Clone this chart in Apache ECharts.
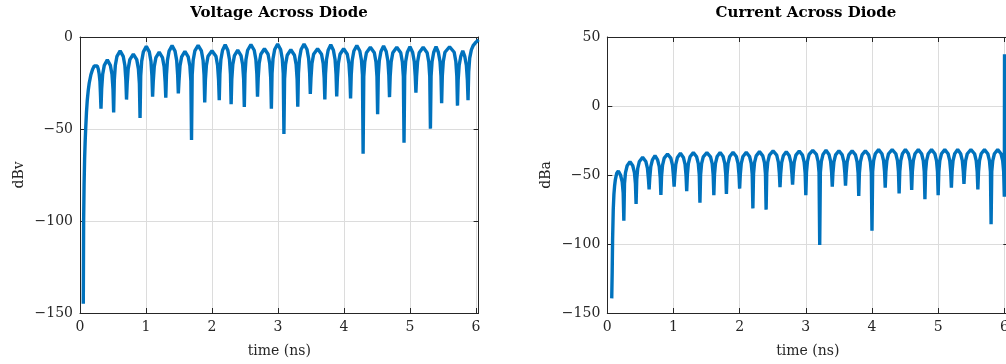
<!DOCTYPE html>
<html>
<head>
<meta charset="utf-8">
<script src="https://cdn.jsdelivr.net/npm/echarts@6/dist/echarts.min.js"></script>
<style>
html,body{margin:0;padding:0;background:#fff;overflow:hidden;}
#chart{width:1006px;height:364px;}
</style>
</head>
<body>
<div id="chart"></div>
<script>
// ---- Data ----
const voltageTitle = 'Voltage Across Diode';
const currentTitle = 'Current Across Diode';
const xAxisName = 'time (ns)';
const voltageAxisName = 'dBv';
const currentAxisName = 'dBa';
const voltageYTicks = [-150, -100, -50, 0];
const currentYTicks = [-150, -100, -50, 0, 50];
const timeTicks = [0, 1, 2, 3, 4, 5, 6];

// voltage trace: [time (ns), dBv]
const voltageTrace = [
  [0.05,-145],[0.055,-100],[0.062,-80],[0.07,-66],[0.078,-57],[0.086,-50],[0.098,-41],[0.11,-34.5],[0.125,-29],[0.14,-25],[0.165,-20.5],[0.19,-17.6],[0.215,-15.8],[0.24,-15.1],[0.262,-15.8],[0.278,-17.5],[0.29,-20],[0.302,-24],[0.309,-30],[0.318,-39],
  [0.328,-28.4],[0.343,-20.4],[0.368,-15.4],[0.414,-12.4],[0.46,-15.4],[0.485,-20.4],[0.50,-28.4],[0.51,-41],
  [0.52,-23.5],[0.535,-15.5],[0.56,-10.5],[0.608,-7.5],[0.655,-10.5],[0.68,-15.5],[0.695,-23.5],[0.705,-34],
  [0.715,-25.3],[0.73,-17.3],[0.755,-12.3],[0.808,-9.3],[0.86,-12.3],[0.885,-17.3],[0.90,-25.3],[0.91,-44],
  [0.92,-21.1],[0.935,-13.1],[0.96,-8.1],[1.005,-5.1],[1.05,-8.1],[1.075,-13.1],[1.09,-21.1],[1.10,-32.5],
  [1.11,-24.2],[1.125,-16.2],[1.15,-11.2],[1.2,-8.2],[1.25,-11.2],[1.275,-16.2],[1.29,-24.2],[1.30,-33],
  [1.31,-20.7],[1.325,-12.7],[1.35,-7.7],[1.395,-4.7],[1.44,-7.7],[1.465,-12.7],[1.48,-20.7],[1.49,-30.7],
  [1.50,-23.8],[1.515,-15.8],[1.54,-10.8],[1.59,-7.8],[1.64,-10.8],[1.665,-15.8],[1.68,-23.8],[1.69,-56],
  [1.70,-20.6],[1.715,-12.6],[1.74,-7.6],[1.79,-4.6],[1.84,-7.6],[1.865,-12.6],[1.88,-20.6],[1.89,-35.6],
  [1.90,-23.5],[1.915,-15.5],[1.94,-10.5],[2.0,-7.5],[2.06,-10.5],[2.085,-15.5],[2.10,-23.5],[2.11,-34.4],
  [2.12,-20.2],[2.135,-12.2],[2.16,-7.2],[2.2,-4.2],[2.24,-7.2],[2.265,-12.2],[2.28,-20.2],[2.29,-36.5],
  [2.30,-23.1],[2.315,-15.1],[2.34,-10.1],[2.39,-7.1],[2.44,-10.1],[2.465,-15.1],[2.48,-23.1],[2.49,-38],
  [2.50,-20.2],[2.515,-12.2],[2.54,-7.2],[2.59,-4.2],[2.64,-7.2],[2.665,-12.2],[2.68,-20.2],[2.69,-32.4],
  [2.70,-22.4],[2.715,-14.4],[2.74,-9.4],[2.795,-6.4],[2.85,-9.4],[2.875,-14.4],[2.89,-22.4],[2.90,-39],
  [2.91,-19.8],[2.925,-11.8],[2.95,-6.8],[2.995,-3.8],[3.04,-6.8],[3.065,-11.8],[3.08,-19.8],[3.09,-52.7],
  [3.10,-22.9],[3.115,-14.9],[3.14,-9.9],[3.195,-6.9],[3.25,-9.9],[3.275,-14.9],[3.29,-22.9],[3.30,-37.9],
  [3.31,-19.8],[3.325,-11.8],[3.35,-6.8],[3.395,-3.8],[3.44,-6.8],[3.465,-11.8],[3.48,-19.8],[3.49,-31],
  [3.50,-22.4],[3.515,-14.4],[3.54,-9.4],[3.60,-6.4],[3.66,-9.4],[3.685,-14.4],[3.70,-22.4],[3.71,-34],
  [3.72,-20.2],[3.735,-12.2],[3.76,-7.2],[3.80,-4.2],[3.84,-7.2],[3.865,-12.2],[3.88,-20.2],[3.89,-32.3],
  [3.90,-22.4],[3.915,-14.4],[3.94,-9.4],[3.995,-6.4],[4.05,-9.4],[4.075,-14.4],[4.09,-22.4],[4.10,-33.4],
  [4.11,-20.6],[4.125,-12.6],[4.15,-7.6],[4.195,-4.6],[4.24,-7.6],[4.265,-12.6],[4.28,-20.6],[4.29,-63.5],
  [4.30,-21.6],[4.315,-13.6],[4.34,-8.6],[4.40,-5.6],[4.46,-8.6],[4.485,-13.6],[4.50,-21.6],[4.51,-42],
  [4.52,-20.9],[4.535,-12.9],[4.56,-7.9],[4.60,-4.9],[4.64,-7.9],[4.665,-12.9],[4.68,-20.9],[4.69,-32.7],
  [4.70,-21.6],[4.715,-13.6],[4.74,-8.6],[4.80,-5.6],[4.86,-8.6],[4.885,-13.6],[4.90,-21.6],[4.91,-57.4],
  [4.92,-21.3],[4.935,-13.3],[4.96,-8.3],[5.00,-5.3],[5.04,-8.3],[5.065,-13.3],[5.08,-21.3],[5.09,-30.2],
  [5.10,-21.6],[5.115,-13.6],[5.14,-8.6],[5.20,-5.6],[5.26,-8.6],[5.285,-13.6],[5.30,-21.6],[5.31,-49.8],
  [5.32,-21.3],[5.335,-13.3],[5.36,-8.3],[5.395,-5.3],[5.43,-8.3],[5.455,-13.3],[5.47,-21.3],[5.48,-36],
  [5.49,-21.3],[5.505,-13.3],[5.53,-8.3],[5.60,-5.3],[5.67,-8.3],[5.695,-13.3],[5.71,-21.3],[5.72,-37.3],
  [5.73,-23.5],[5.745,-15.5],[5.77,-10.5],[5.80,-7.5],[5.83,-10.5],[5.855,-15.5],[5.87,-23.5],[5.88,-34.3],
  [5.89,-19],[5.905,-11.5],[5.93,-7],[5.96,-4.5],[6.0,-2.8],[6.04,-1.5]
];

// current trace: [time (ns), dBa]
const currentTrace = [
  [0.067,-139.4],[0.074,-120],[0.08,-97],[0.09,-75],[0.1,-64],[0.11,-58],[0.121,-53.6],[0.142,-48.8],[0.167,-47.1],[0.20,-50],[0.225,-55],[0.24,-63],[0.25,-83.1],
  [0.26,-56.3],[0.275,-48.3],[0.30,-43.3],[0.343,-40.3],[0.385,-43.3],[0.41,-48.3],[0.425,-56.3],[0.435,-71],
  [0.445,-53.2],[0.46,-45.2],[0.485,-40.2],[0.534,-37.2],[0.582,-40.2],[0.607,-45.2],[0.622,-53.2],[0.632,-60.4],
  [0.642,-52],[0.657,-44],[0.682,-39],[0.721,-36],[0.76,-39],[0.785,-44],[0.80,-52],[0.81,-64.5],
  [0.82,-50.8],[0.835,-42.8],[0.86,-37.8],[0.91,-34.8],[0.96,-37.8],[0.985,-42.8],[1.0,-50.8],[1.01,-58.5],
  [1.02,-50.3],[1.035,-42.3],[1.06,-37.3],[1.105,-34.3],[1.15,-37.3],[1.175,-42.3],[1.19,-50.3],[1.20,-61.8],
  [1.21,-49.8],[1.225,-41.8],[1.25,-36.8],[1.30,-33.8],[1.35,-36.8],[1.375,-41.8],[1.39,-49.8],[1.40,-70],
  [1.41,-49.8],[1.425,-41.8],[1.45,-36.8],[1.505,-33.8],[1.56,-36.8],[1.585,-41.8],[1.60,-49.8],[1.61,-64.7],
  [1.62,-49.6],[1.635,-41.6],[1.66,-36.6],[1.705,-33.6],[1.75,-36.6],[1.775,-41.6],[1.79,-49.6],[1.80,-63.8],
  [1.81,-49.6],[1.825,-41.6],[1.85,-36.6],[1.90,-33.6],[1.95,-36.6],[1.975,-41.6],[1.99,-49.6],[2.00,-59.9],
  [2.01,-49.6],[2.025,-41.6],[2.05,-36.6],[2.10,-33.6],[2.15,-36.6],[2.175,-41.6],[2.19,-49.6],[2.20,-74.2],
  [2.21,-49.1],[2.225,-41.1],[2.25,-36.1],[2.30,-33.1],[2.35,-36.1],[2.375,-41.1],[2.39,-49.1],[2.40,-75.1],
  [2.41,-48.6],[2.425,-40.6],[2.45,-35.6],[2.505,-32.6],[2.56,-35.6],[2.585,-40.6],[2.60,-48.6],[2.61,-58.9],
  [2.62,-49.1],[2.635,-41.1],[2.66,-36.1],[2.705,-33.1],[2.75,-36.1],[2.775,-41.1],[2.79,-49.1],[2.80,-57],
  [2.81,-48.6],[2.825,-40.6],[2.85,-35.6],[2.90,-32.6],[2.95,-35.6],[2.975,-40.6],[2.99,-48.6],[3.00,-64.7],
  [3.01,-48.1],[3.025,-40.1],[3.05,-35.1],[3.105,-32.1],[3.16,-35.1],[3.185,-40.1],[3.20,-48.1],[3.21,-100.7],
  [3.22,-48.1],[3.235,-40.1],[3.26,-35.1],[3.305,-32.1],[3.35,-35.1],[3.375,-40.1],[3.39,-48.1],[3.40,-58.5],
  [3.41,-48.4],[3.425,-40.4],[3.45,-35.4],[3.50,-32.4],[3.55,-35.4],[3.575,-40.4],[3.59,-48.4],[3.60,-57.7],
  [3.61,-48.4],[3.625,-40.4],[3.65,-35.4],[3.70,-32.4],[3.75,-35.4],[3.775,-40.4],[3.79,-48.4],[3.80,-65.2],
  [3.81,-48.4],[3.825,-40.4],[3.85,-35.4],[3.90,-32.4],[3.95,-35.4],[3.975,-40.4],[3.99,-48.4],[4.00,-90.3],
  [4.01,-47.6],[4.025,-39.6],[4.05,-34.6],[4.10,-31.6],[4.15,-34.6],[4.175,-39.6],[4.19,-47.6],[4.20,-59.2],
  [4.21,-47.6],[4.225,-39.6],[4.25,-34.6],[4.305,-31.6],[4.36,-34.6],[4.385,-39.6],[4.40,-47.6],[4.41,-63.3],
  [4.42,-47.6],[4.435,-39.6],[4.46,-34.6],[4.505,-31.6],[4.55,-34.6],[4.575,-39.6],[4.59,-47.6],[4.60,-60.9],
  [4.61,-47.6],[4.625,-39.6],[4.65,-34.6],[4.70,-31.6],[4.75,-34.6],[4.775,-39.6],[4.79,-47.6],[4.80,-67.6],
  [4.81,-47.6],[4.825,-39.6],[4.85,-34.6],[4.90,-31.6],[4.95,-34.6],[4.975,-39.6],[4.99,-47.6],[5.00,-64.7],
  [5.01,-47.6],[5.025,-39.6],[5.05,-34.6],[5.10,-31.6],[5.15,-34.6],[5.175,-39.6],[5.19,-47.6],[5.20,-59.2],
  [5.21,-47.6],[5.225,-39.6],[5.25,-34.6],[5.295,-31.6],[5.34,-34.6],[5.365,-39.6],[5.38,-47.6],[5.39,-56.5],
  [5.40,-47.6],[5.415,-39.6],[5.44,-34.6],[5.495,-31.6],[5.55,-34.6],[5.575,-39.6],[5.59,-47.6],[5.60,-60.4],
  [5.61,-47.6],[5.625,-39.6],[5.65,-34.6],[5.70,-31.6],[5.75,-34.6],[5.775,-39.6],[5.79,-47.6],[5.80,-85.7],
  [5.81,-47.6],[5.825,-39.6],[5.85,-34.6],[5.90,-31.6],[5.95,-34.6],[5.975,-39.6],[5.99,-47.6],[6.00,-65.7],
  [6.003,37.5]
];

// ---- Styling ----
const FONT = 'DejaVu Serif';
const AXIS_COLOR = '#262626';
const GRID_COLOR = '#dcdcdc';
const LINE_COLOR = '#0072BD';

function fmtY(v) { return v < 0 ? '\u2212' + Math.abs(v) : String(v); }
function fmtX(v) { return timeTicks.indexOf(Math.round(v * 1000) / 1000) >= 0 ? String(Math.round(v)) : ''; }

function bottomAxis(gridIndex, max) {
  return {
    type: 'value', gridIndex, min: 0, max, interval: 1, position: 'bottom',
    name: xAxisName, nameLocation: 'middle', nameGap: 31,
    nameTextStyle: { fontFamily: FONT, fontSize: 14, color: AXIS_COLOR },
    axisLine: { show: true, onZero: false, lineStyle: { color: AXIS_COLOR, width: 1 } },
    axisTick: { show: true, inside: true, length: 5, lineStyle: { color: AXIS_COLOR } },
    axisLabel: { formatter: fmtX, fontFamily: FONT, fontSize: 14, color: AXIS_COLOR, margin: 7, hideOverlap: false },
    splitLine: { show: true, lineStyle: { color: GRID_COLOR, width: 1 } }
  };
}
function topAxis(gridIndex, max) {
  return {
    type: 'value', gridIndex, min: 0, max, interval: 1, position: 'top',
    axisLine: { show: true, onZero: false, lineStyle: { color: AXIS_COLOR, width: 1 } },
    axisTick: { show: true, inside: true, length: 5, lineStyle: { color: AXIS_COLOR } },
    axisLabel: { show: false }, splitLine: { show: false }
  };
}
function leftAxis(gridIndex, ticks, name) {
  return {
    type: 'value', gridIndex, min: ticks[0], max: ticks[ticks.length - 1], interval: 50, position: 'left',
    name, nameLocation: 'middle', nameGap: 54,
    nameTextStyle: { fontFamily: FONT, fontSize: 14, color: AXIS_COLOR },
    axisLine: { show: true, onZero: false, lineStyle: { color: AXIS_COLOR, width: 1 } },
    axisTick: { show: true, inside: true, length: 5, lineStyle: { color: AXIS_COLOR } },
    axisLabel: { formatter: fmtY, fontFamily: FONT, fontSize: 14, color: AXIS_COLOR, margin: 7 },
    splitLine: { show: true, lineStyle: { color: GRID_COLOR, width: 1 } }
  };
}
function rightAxis(gridIndex, ticks) {
  return {
    type: 'value', gridIndex, min: ticks[0], max: ticks[ticks.length - 1], interval: 50, position: 'right',
    axisLine: { show: true, onZero: false, lineStyle: { color: AXIS_COLOR, width: 1 } },
    axisTick: { show: true, inside: true, length: 5, lineStyle: { color: AXIS_COLOR } },
    axisLabel: { show: false }, splitLine: { show: false }
  };
}

const chart = echarts.init(document.getElementById('chart'), null, { renderer: 'canvas' });
chart.setOption({
  animation: false,
  backgroundColor: '#ffffff',
  title: [
    { text: voltageTitle, left: 279, top: 6, textAlign: 'center', padding: 0,
      textStyle: { fontFamily: FONT, fontSize: 15, fontWeight: 'bold', color: '#000' } },
    { text: currentTitle, left: 806, top: 6, textAlign: 'center', padding: 0,
      textStyle: { fontFamily: FONT, fontSize: 15, fontWeight: 'bold', color: '#000' } }
  ],
  grid: [
    { left: 80, top: 37, width: 398.6, height: 276, containLabel: false, outerBoundsMode: 'none' },
    { left: 607.3, top: 37, width: 401, height: 276, containLabel: false, outerBoundsMode: 'none' }
  ],
  xAxis: [bottomAxis(0, 6.04), topAxis(0, 6.04), bottomAxis(1, 6.06), topAxis(1, 6.06)],
  yAxis: [leftAxis(0, voltageYTicks, voltageAxisName), rightAxis(0, voltageYTicks),
          leftAxis(1, currentYTicks, currentAxisName), rightAxis(1, currentYTicks)],
  series: [
    { type: 'line', xAxisIndex: 0, yAxisIndex: 0, data: voltageTrace, showSymbol: false, clip: true,
      lineStyle: { color: LINE_COLOR, width: 3.4 }, itemStyle: { color: LINE_COLOR } },
    { type: 'line', xAxisIndex: 2, yAxisIndex: 2, data: currentTrace, showSymbol: false, clip: true,
      lineStyle: { color: LINE_COLOR, width: 3.4 }, itemStyle: { color: LINE_COLOR } }
  ]
});
</script>
</body>
</html>
